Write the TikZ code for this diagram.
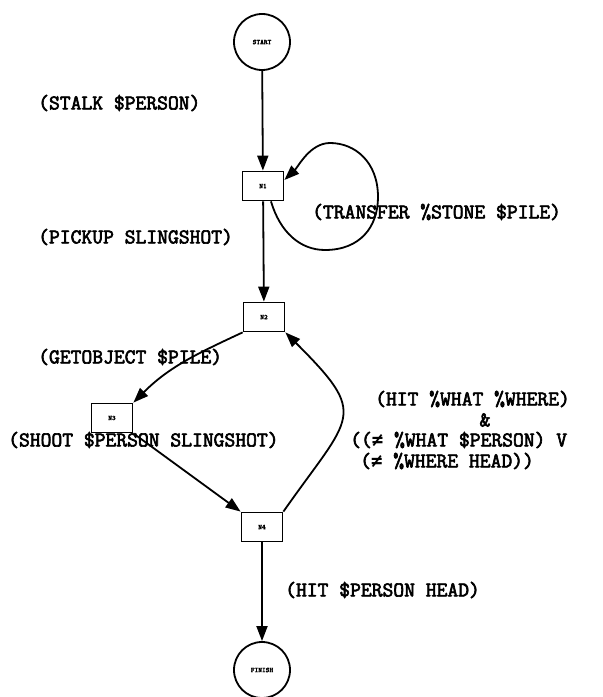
\documentclass[tikz,border=0pt]{standalone}
\usepackage{fontspec}
\setmonofont{Latin Modern Mono}[AutoFakeBold=3]
\newfontfamily\symfont{DejaVu Sans Mono}
\usetikzlibrary{arrows.meta}
\begin{document}
\begin{tikzpicture}[x=1pt,y=1pt,
  every node/.style={font=\ttfamily\bfseries\fontsize{21}{23}\selectfont},
  circnode/.style={circle,draw,line width=1.8pt,minimum size=56pt,inner sep=0pt,font=\ttfamily\bfseries\fontsize{7}{8}\selectfont},
  boxnode/.style={rectangle,draw,line width=1.8pt,minimum width=41pt,minimum height=29pt,inner sep=0pt,font=\ttfamily\bfseries\fontsize{7}{8}\selectfont},
  arr/.style={line width=1.8pt,-{Triangle[length=15pt,width=11pt]}},
  lab/.style={anchor=west,inner sep=0pt}]
\useasboundingbox (0,0) rectangle (603,697);
\node[circnode] (start) at (262,655) {START};
\node[boxnode] (n1) at (263,511) {N1};
\node[boxnode] (n2) at (264,380) {N2};
\node[boxnode] (n3) at (112,279) {N3};
\node[boxnode] (n4) at (262,170) {N4};
\node[circnode] (fin) at (262,27) {FINISH};
\coordinate (l1) at ([xshift=8pt]n1.south);
\coordinate (l2) at ([yshift=6pt]n1.east);
\draw[arr] (start) -- (n1);
\draw[arr] (n1) -- (n2);
\draw[arr] (l1) .. controls (280,465) and (300,447) .. (325,447)
  .. controls (360,447) and (378,470) .. (378,500)
  .. controls (378,535) and (355,554) .. (330,554)
  .. controls (310,554) and (298,530) .. (l2);
\draw[arr] (n2.south west) to[out=205,in=45] (n3.north east);
\draw[arr] (n3.south east) -- (n4.north west);
\draw[arr] (n4.north east) to[out=55,in=-45,looseness=1.7] (n2.south east);
\draw[arr] (n4) -- (fin);
\node[lab] (t1) at (38,594) {(STALK \$PERSON)};
\node[lab] (t2) at (38,460) {(PICKUP SLINGSHOT)};
\node[lab] (t3) at (312,485) {(TRANSFER \%STONE \$PILE)};
\node[lab] (t4) at (38,340) {(GETOBJECT \$PILE)};
\node[lab] (t5) at (8,257) {(SHOOT \$PERSON SLINGSHOT)};
\node[lab] (t6) at (375,298) {(HIT \%WHAT \%WHERE)};
\node[inner sep=0pt] (t7) at (485,277) {\&};
\node[lab] (t8) at (350,257) {(({\symfont\fontsize{19}{21}\selectfont ≠} \%WHAT \$PERSON) V};
\node[lab] (t9) at (360,236) {({\symfont\fontsize{19}{21}\selectfont ≠} \%WHERE HEAD))};
\node[lab] (t10) at (285,107) {(HIT \$PERSON HEAD)};
\end{tikzpicture}
\end{document}
